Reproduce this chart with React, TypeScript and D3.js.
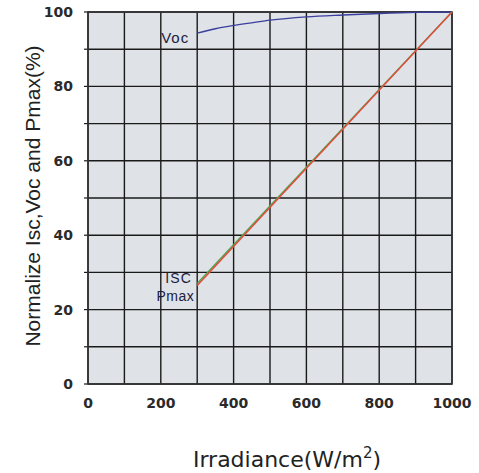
import React from "react";
import * as d3 from "d3";

const irradianceVoc = [300, 350, 400, 450, 500, 600, 700, 800, 900, 1000];
const vocValues = [94.3, 95.5, 96.4, 97.1, 97.8, 98.7, 99.2, 99.6, 99.9, 100];
const irradianceIsc = [300, 1000];
const iscValues = [27.0, 100];
const pmaxValues = [26.5, 100];
const xTicks = [0, 200, 400, 600, 800, 1000];
const yTicks = [0, 20, 40, 60, 80, 100];

export default function App() {
  const W = 479, H = 473;
  const m = { l: 88, r: 452, t: 12, b: 384 };
  const x = d3.scaleLinear().domain([0, 1000]).range([m.l, m.r]);
  const y = d3.scaleLinear().domain([0, 100]).range([m.b, m.t]);
  const mk = (xs: number[], ys: number[], curve = d3.curveLinear) =>
    d3.line<number>().x((d) => x(d)).y((_, i) => y(ys[i])).curve(curve)(xs) || "";
  const vGrid = d3.range(0, 1001, 100);
  const hGrid = d3.range(0, 101, 10);
  return (
    <svg width={W} height={H} style={{ position: "absolute", left: 0, top: 0 }}>
      <rect x={0} y={0} width={W} height={H} fill="#fff" />
      <rect x={m.l} y={m.t} width={m.r - m.l} height={m.b - m.t} fill="#dfe2e7" />
      {vGrid.map((v) => (
        <line key={"v" + v} x1={x(v)} x2={x(v)} y1={m.t} y2={m.b} stroke="#1a1a1a" strokeWidth={1.4} />
      ))}
      {hGrid.map((v) => (
        <line key={"h" + v} x1={m.l} x2={m.r} y1={y(v)} y2={y(v)} stroke="#1a1a1a" strokeWidth={1.4} />
      ))}
      {hGrid.map((v) => (
        <line key={"t" + v} x1={m.l - 4} x2={m.l} y1={y(v)} y2={y(v)} stroke="#1a1a1a" strokeWidth={1.2} />
      ))}
      <rect x={m.l} y={m.t} width={m.r - m.l} height={m.b - m.t} fill="none" stroke="#333" strokeWidth={1.6} />
      <path d={mk(irradianceVoc, vocValues, d3.curveMonotoneX)} fill="none" stroke="#3b3f9e" strokeWidth={1.3} />
      <path d={mk(irradianceIsc, iscValues)} fill="none" stroke="#4aa84a" strokeWidth={1.4} />
      <path d={mk(irradianceIsc, pmaxValues)} fill="none" stroke="#e34b3c" strokeWidth={1.5} />
      <g fontFamily="DejaVu Sans, Verdana, sans-serif" fontSize={14} fill="#2a2a2a" fontWeight="bold">
        {yTicks.map((v) => (
          <text key={"yl" + v} x={m.l - 15} y={y(v) + 5} textAnchor="end">{v}</text>
        ))}
        {xTicks.map((v) => (
          <text key={"xl" + v} x={x(v)} y={m.b + 24} textAnchor="middle">{v}</text>
        ))}
      </g>
      <g fontFamily="Liberation Sans, Arial, sans-serif" fill="#1c2140">
        <text x={x(300) - 8} y={43} fontSize={15} textAnchor="end" letterSpacing={1}>Voc</text>
        <text x={x(300) - 5} y={283} fontSize={14} textAnchor="end" letterSpacing={1.2}>ISC</text>
        <text x={x(300) - 3} y={301} fontSize={14} textAnchor="end" letterSpacing={0.5}>Pmax</text>
      </g>
      <text
        transform={`translate(40,196) rotate(-90)`}
        textAnchor="middle"
        fontFamily="Liberation Sans, Arial, sans-serif"
        fontSize={21}
        fill="#222"
      >
        Normalize Isc,Voc and Pmax(%)
      </text>
      <text x={287} y={467} textAnchor="middle" fontFamily="DejaVu Sans, Verdana, sans-serif" fontSize={22} fill="#222">
        Irradiance(W/m<tspan dy={-9} fontSize={15}>2</tspan><tspan dy={9}>)</tspan>
      </text>
    </svg>
  );
}
